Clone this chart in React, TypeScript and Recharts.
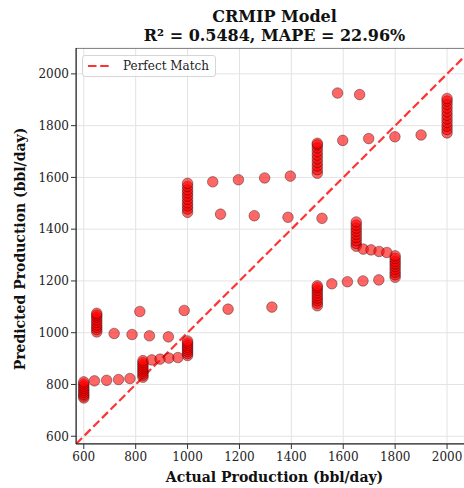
import React from 'react';
import { ScatterChart, Scatter, XAxis, YAxis, CartesianGrid, ReferenceLine, ReferenceArea } from 'recharts';

// Columns: one actual value with many predicted values
const col600 = [748, 755, 762, 770, 778, 786, 794, 802, 810];
const col650 = [1003, 1012, 1021, 1030, 1040, 1050, 1060, 1068, 1075];
const col825 = [828, 836, 844, 852, 860, 868, 876, 884, 892];
const col1000Low = [912, 920, 928, 936, 944, 952, 960, 968];
const col1000High = [1465, 1478, 1490, 1502, 1515, 1528, 1540, 1552, 1565, 1577];
const col1500Low = [1104, 1114, 1124, 1134, 1144, 1154, 1164, 1174, 1181];
const col1500High = [1616, 1630, 1644, 1658, 1672, 1686, 1700, 1714, 1726, 1732];
const col1650 = [1334, 1345, 1356, 1368, 1380, 1392, 1404, 1416, 1428];
const col1800 = [1214, 1224, 1234, 1245, 1256, 1266, 1276, 1287, 1297];
const col2000 = [1772, 1785, 1798, 1812, 1826, 1840, 1854, 1868, 1882, 1895, 1905];

const columnActuals = [600, 650, 828, 1000, 1000, 1500, 1500, 1650, 1800, 2000];
const columnPredicted = [col600, col650, col825, col1000Low, col1000High, col1500Low, col1500High, col1650, col1800, col2000];

// Single scattered points
const scatterActual = [
  641, 688, 734, 778, 862, 894, 928, 963, 717, 786, 853, 926, 816, 987,
  1097, 1196, 1297, 1396, 1127, 1257, 1387, 1518, 1156, 1325,
  1556, 1616, 1676, 1737, 1578, 1663, 1598, 1698, 1799, 1900,
  1677, 1707, 1738, 1768,
];
const scatterPredicted = [
  814, 816, 819, 823, 895, 898, 902, 904, 997, 993, 988, 984, 1082, 1086,
  1583, 1591, 1598, 1605, 1458, 1452, 1446, 1442, 1091, 1099,
  1189, 1197, 1200, 1204, 1926, 1920, 1743, 1750, 1757, 1764,
  1323, 1320, 1314, 1310,
];

const ticks = [600, 800, 1000, 1200, 1400, 1600, 1800, 2000];
const lo = 570;
const hi = 2100;

const titleLine1 = 'CRMIP Model';
const titleLine2 = 'R² = 0.5484, MAPE = 22.96%';
const xLabel = 'Actual Production (bbl/day)';
const yLabel = 'Predicted Production (bbl/day)';
const legendLabel = 'Perfect Match';

const points: { x: number; y: number }[] = [];
columnActuals.forEach((a, i) => columnPredicted[i].forEach((p) => points.push({ x: a, y: p })));
scatterActual.forEach((a, i) => points.push({ x: a, y: scatterPredicted[i] }));

const FONT = '"DejaVu Serif", serif';

const Dot = (props: any) => (
  <circle cx={props.cx} cy={props.cy} r={5.3} fill="#ff0000" fillOpacity={0.6} stroke="#000000" strokeOpacity={0.45} strokeWidth={0.8} />
);

const XTick = (props: any) => (
  <text x={props.x} y={props.y + 10} textAnchor="middle" fontFamily={FONT} fontSize={12} fill="#222">
    {props.payload.value}
  </text>
);

const YTick = (props: any) => (
  <text x={props.x} y={props.y + 4.3} textAnchor="end" fontFamily={FONT} fontSize={12} fill="#222">
    {props.payload.value}
  </text>
);

const LegendBox = () => (
  <div
    style={{
      position: 'absolute',
      left: 82,
      top: 55,
      border: '1px solid #d6d6d6',
      borderRadius: 3,
      background: 'rgba(255,255,255,0.8)',
      width: 134,
      height: 22,
      display: 'flex',
      alignItems: 'center',
      boxSizing: 'border-box',
      fontFamily: FONT,
      fontSize: 12,
      color: '#222',
    }}
  >
    <svg width={36} height={10} style={{ marginLeft: 4 }}>
      <line x1={1} y1={5} x2={25} y2={5} stroke="#ff0000" strokeOpacity={0.8} strokeWidth={2.2} strokeDasharray="8.5 3.7" />
    </svg>
    <span>{legendLabel}</span>
  </div>
);

export default function App() {
  return (
    <div style={{ position: 'absolute', left: 0, top: 0, width: 464, height: 488, overflow: 'hidden', background: '#fff' }}>
      <ScatterChart width={480} height={488} margin={{ top: 48, right: 7, bottom: 0, left: 0 }}>
        <CartesianGrid stroke="#e3e3e3" strokeWidth={1} />
        <XAxis
          type="number"
          dataKey="x"
          domain={[lo, hi]}
          ticks={ticks}
          allowDataOverflow
          height={44}
          tickSize={5}
          tickLine={{ stroke: '#333' }}
          axisLine={{ stroke: '#222' }}
          tick={XTick}
        />
        <YAxis
          type="number"
          dataKey="y"
          domain={[lo, hi]}
          ticks={ticks}
          allowDataOverflow
          width={76}
          tickSize={5}
          tickLine={{ stroke: '#333' }}
          axisLine={{ stroke: '#222' }}
          tick={YTick}
        />
        <ReferenceArea x1={lo} x2={hi} y1={lo} y2={hi} fill="none" stroke="#222" strokeWidth={1} ifOverflow="hidden" />
        <Scatter data={points} shape={Dot} isAnimationActive={false} />
        <ReferenceLine
          segment={[{ x: lo, y: lo }, { x: hi, y: hi }]}
          stroke="#ff0000"
          strokeOpacity={0.8}
          strokeWidth={2.2}
          strokeDasharray="8.5 3.7"
          ifOverflow="hidden"
        />
        <text x={274.5} y={22} textAnchor="middle" fontFamily={FONT} fontWeight="bold" fontSize={16} fill="#111">
          {titleLine1}
        </text>
        <text x={274.5} y={40.5} textAnchor="middle" fontFamily={FONT} fontWeight="bold" fontSize={16} fill="#111">
          {titleLine2}
        </text>
        <text x={274.5} y={482} textAnchor="middle" fontFamily={FONT} fontWeight="bold" fontSize={14} fill="#111">
          {xLabel}
        </text>
        <text
          x={25}
          y={249}
          textAnchor="middle"
          transform="rotate(-90 25 249)"
          fontFamily={FONT}
          fontWeight="bold"
          fontSize={14}
          fill="#111"
        >
          {yLabel}
        </text>
      </ScatterChart>
      <LegendBox />
    </div>
  );
}
